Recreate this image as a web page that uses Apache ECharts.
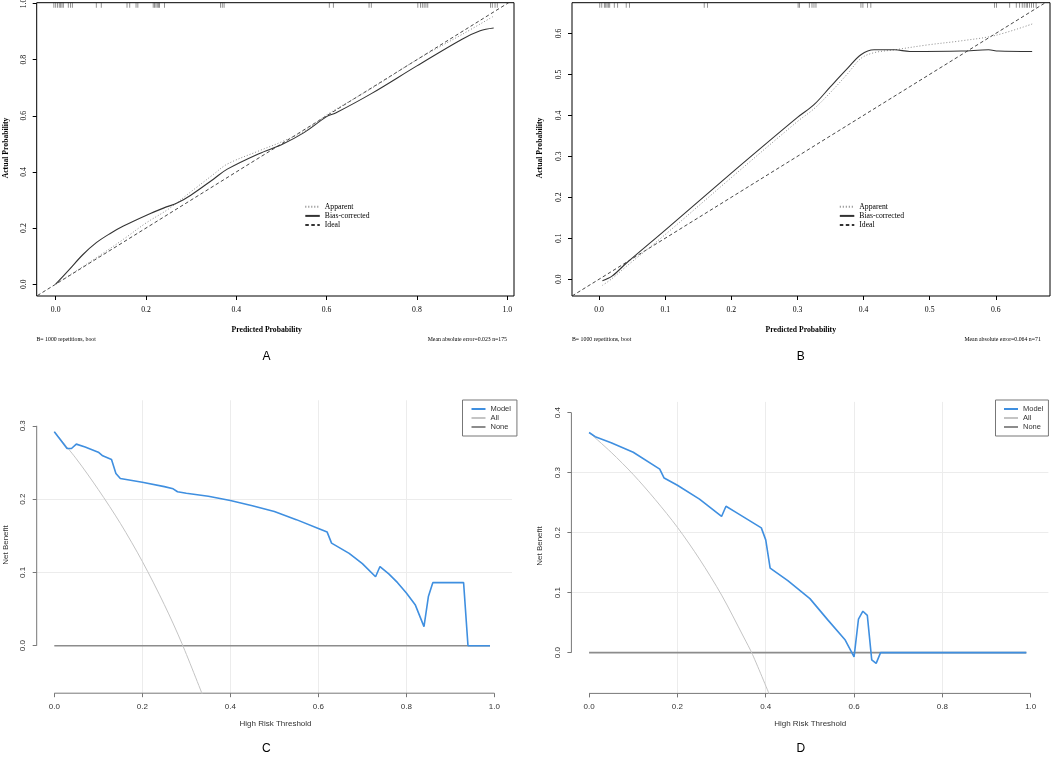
<!DOCTYPE html>
<html>
<head>
<meta charset="utf-8">
<script src="https://cdn.jsdelivr.net/npm/echarts@6.0.0/dist/echarts.min.js"></script>
<style>
html,body{margin:0;padding:0;background:#fff;}
#main{width:1052px;height:759px;}
</style>
</head>
<body>
<div id="main"></div>
<script>
// ---------- data ----------
// A: calibration, training set
var xTicksA = [0, 0.2, 0.4, 0.6, 0.8, 1.0];
var yTicksA = [0, 0.2, 0.4, 0.6, 0.8, 1.0];
var apparentAx = [0, 0.05, 0.1, 0.15, 0.2, 0.25, 0.3, 0.35, 0.38, 0.45, 0.5, 0.55, 0.6, 0.7, 0.8, 0.9, 0.97];
var apparentAy = [0, 0.052, 0.105, 0.16, 0.218, 0.268, 0.33, 0.392, 0.428, 0.475, 0.507, 0.545, 0.603, 0.698, 0.8, 0.89, 0.955];
var biasAx = [0, 0.03, 0.06, 0.09, 0.12, 0.15, 0.2, 0.24, 0.27, 0.3, 0.35, 0.38, 0.45, 0.5, 0.55, 0.6, 0.62, 0.7, 0.8, 0.9, 0.94, 0.97];
var biasAy = [0, 0.052, 0.105, 0.148, 0.18, 0.207, 0.245, 0.272, 0.29, 0.318, 0.375, 0.41, 0.465, 0.497, 0.54, 0.597, 0.61, 0.68, 0.778, 0.873, 0.903, 0.913];
var rugA = [-0.004, 0.0, 0.004, 0.008, 0.011, 0.014, 0.017, 0.028, 0.033, 0.037, 0.09, 0.101, 0.158, 0.164, 0.178, 0.182,
            0.216, 0.219, 0.222, 0.225, 0.228, 0.23, 0.241, 0.365, 0.369, 0.373, 0.606, 0.615, 0.694, 0.699,
            0.802, 0.808, 0.812, 0.816, 0.82, 0.824, 0.963, 0.967, 0.973, 0.978];
var statsA = ['B= 1000 repetitions, boot', 'Mean absolute error=0.023 n=175'];

// B: calibration, validation set
var xTicksB = [0, 0.1, 0.2, 0.3, 0.4, 0.5, 0.6];
var yTicksB = [0, 0.1, 0.2, 0.3, 0.4, 0.5, 0.6];
var apparentBx = [0.005, 0.02, 0.041, 0.1, 0.2, 0.3, 0.325, 0.35, 0.376, 0.396, 0.416, 0.447, 0.497, 0.548, 0.599, 0.655];
var apparentBy = [-0.015, 0.002, 0.031, 0.109, 0.248, 0.385, 0.416, 0.456, 0.502, 0.539, 0.553, 0.56, 0.572, 0.582, 0.595, 0.623];
var biasBx = [0.005, 0.02, 0.041, 0.1, 0.2, 0.3, 0.325, 0.35, 0.376, 0.396, 0.416, 0.447, 0.47, 0.548, 0.589, 0.604, 0.655];
var biasBy = [-0.004, 0.008, 0.039, 0.12, 0.259, 0.395, 0.426, 0.47, 0.515, 0.548, 0.56, 0.56, 0.556, 0.557, 0.56, 0.557, 0.556];
var rugB = [0.001, 0.004, 0.008, 0.01, 0.012, 0.014, 0.016, 0.023, 0.028, 0.041, 0.046, 0.159, 0.164, 0.301, 0.303,
            0.318, 0.322, 0.325, 0.328, 0.396, 0.399, 0.406, 0.411, 0.598, 0.601, 0.621, 0.631, 0.636, 0.64, 0.643,
            0.646, 0.648, 0.651, 0.654, 0.657, 0.661];
var statsB = ['B= 1000 repetitions, boot', 'Mean absolute error=0.064 n=71'];

// C / D: decision curves
var xTicksDCA = [0, 0.2, 0.4, 0.6, 0.8, 1.0];
var yTicksC = [0, 0.1, 0.2, 0.3];
var yTicksD = [0, 0.1, 0.2, 0.3, 0.4];
var modelCx = [0, 0.029, 0.039, 0.05, 0.07, 0.1, 0.11, 0.13, 0.14, 0.15, 0.2, 0.25, 0.27, 0.28, 0.3, 0.35, 0.4, 0.45, 0.5, 0.55, 0.6, 0.62,
               0.63, 0.67, 0.7, 0.73, 0.74, 0.76, 0.78, 0.8, 0.82, 0.84, 0.85, 0.86, 0.93, 0.94, 0.99];
var modelCy = [0.292, 0.269, 0.269, 0.275, 0.271, 0.264, 0.259, 0.254, 0.235, 0.228, 0.223, 0.217, 0.214, 0.21, 0.208, 0.204, 0.198, 0.191, 0.183, 0.172, 0.16, 0.155,
               0.14, 0.126, 0.112, 0.094, 0.108, 0.098, 0.086, 0.072, 0.056, 0.026, 0.067, 0.086, 0.086, 0, 0];
var allCx = [0, 0.05, 0.1, 0.15, 0.2, 0.25, 0.29, 0.34];
var allCy = [0.292, 0.255, 0.213, 0.167, 0.115, 0.056, 0.003, -0.072];
var noneCx = [0, 0.99];
var noneCy = [0, 0];
var modelDx = [0, 0.014, 0.05, 0.1, 0.16, 0.17, 0.2, 0.25, 0.3, 0.31, 0.33, 0.39, 0.4, 0.41, 0.45, 0.5, 0.54, 0.58, 0.6,
               0.61, 0.62, 0.63, 0.64, 0.65, 0.66, 0.99];
var modelDy = [0.367, 0.36, 0.35, 0.334, 0.306, 0.291, 0.279, 0.256, 0.227, 0.244, 0.235, 0.208, 0.188, 0.141, 0.12, 0.09, 0.055, 0.021, -0.007,
               0.056, 0.069, 0.062, -0.012, -0.018, 0, 0];
var allDx = [0, 0.05, 0.1, 0.15, 0.2, 0.25, 0.3, 0.35, 0.37, 0.41];
var allDy = [0.367, 0.334, 0.297, 0.255, 0.209, 0.156, 0.096, 0.026, -0.003, -0.073];
var noneDx = [0, 0.99];
var noneDy = [0, 0];

var calLegend = ['Apparent', 'Bias-corrected', 'Ideal'];
var dcaLegend = ['Model', 'All', 'None'];
var panelLetters = ['A', 'B', 'C', 'D'];

// ---------- axis extents (R style 4% padding) ----------
var extA = {x: [-0.042, 1.015], y: [-0.042, 1.003]};
var extB = {x: [-0.041, 0.682], y: [-0.041, 0.675]};
var extC = {x: [-0.04, 1.04], y: [-0.0648, 0.3348]};
var extD = {x: [-0.04, 1.04], y: [-0.068, 0.418]};

var serif = 'Liberation Serif';
var sans = 'Liberation Sans';

function xy(xs, ys) { return xs.map(function (x, i) { return [x, ys[i]]; }); }
function fmt1(v) { return v.toFixed(1); }

function calAxis(idx, ext, ticks, isY) {
  return {
    gridIndex: idx, type: 'value', min: ext[0], max: ext[1],
    axisLine: {show: false, onZero: false},
    splitLine: {show: false},
    axisTick: {show: true, inside: false, length: 4, customValues: ticks, lineStyle: {color: '#000', width: 1}},
    axisLabel: {customValues: ticks, formatter: fmt1, margin: isY ? 9 : 10, rotate: isY ? 90 : 0,
      fontFamily: serif, fontSize: 7.7, color: '#000'}
  };
}
function dcaAxis(idx, ext, ticks, isY, split) {
  return {
    gridIndex: idx, type: 'value', min: ext[0], max: ext[1], splitNumber: split,
    axisLine: {show: false, onZero: false},
    splitLine: {show: true, showMinLine: false, showMaxLine: false, lineStyle: {color: '#ececec', width: 1}},
    axisTick: {show: true, inside: false, length: 4, customValues: ticks, lineStyle: {color: '#777', width: 1}},
    axisLabel: {customValues: ticks, formatter: fmt1, margin: 9.5, rotate: isY ? 90 : 0,
      fontFamily: sans, fontSize: 8, color: '#333'}
  };
}

function lineSeries(name, idx, data, color, width, dash, smooth) {
  return {name: name, type: 'line', xAxisIndex: idx, yAxisIndex: idx, symbol: 'none', silent: true,
    smooth: smooth || false, data: data,
    itemStyle: {color: color},
    lineStyle: {color: color, width: width, type: dash || 'solid'}};
}

function calSeries(idx, appX, appY, biasX, biasY, ext, rug) {
  return [
    lineSeries('Ideal', idx, [[ext.x[0] - 0.1, ext.x[0] - 0.1], [ext.x[1] + 0.1, ext.x[1] + 0.1]], '#333', 0.9, [3.5, 2.5]),
    lineSeries('Apparent', idx, xy(appX, appY), '#8a8a8a', 1, [1, 2], 0.35),
    lineSeries('Bias-corrected', idx, xy(biasX, biasY), '#333', 1.1, null, 0.35),
    {type: 'scatter', xAxisIndex: idx, yAxisIndex: idx, silent: true, symbol: 'rect',
      symbolSize: [0.9, 5], symbolOffset: [0, 2.5],
      data: rug.map(function (x) { return [x, ext.y[1]]; }),
      itemStyle: {color: '#222', opacity: 0.55}}
  ];
}
function dcaSeries(idx, mX, mY, aX, aY, nX, nY, ext, yTicks) {
  var axisX = lineSeries('', idx, [[xTicksDCA[0], ext.y[0]], [xTicksDCA[xTicksDCA.length - 1], ext.y[0]]], '#777', 1);
  var axisY = lineSeries('', idx, [[ext.x[0], yTicks[0]], [ext.x[0], yTicks[yTicks.length - 1]]], '#777', 1);
  axisX.clip = false;
  axisY.clip = false;
  return [
    axisX, axisY,
    lineSeries('None', idx, xy(nX, nY), '#8c8c8c', 1.6),
    lineSeries('All', idx, xy(aX, aY), '#c4c4c4', 1, null, 0.3),
    lineSeries('Model', idx, xy(mX, mY), '#3f8fe0', 1.6)
  ];
}

function txt(x, y, s, size, family, opt) {
  opt = opt || {};
  return {
    type: 'text', x: x, y: y, rotation: opt.rot || 0, silent: true,
    style: {text: s, fontSize: size, fontFamily: family, fontWeight: opt.bold ? 'bold' : 'normal',
      fill: opt.color || '#000', align: opt.align || 'center', verticalAlign: 'middle'}
  };
}

var calLegendStyle = {
  orient: 'vertical', padding: 0, itemWidth: 14.5, itemHeight: 2, itemGap: 0, itemTextGap: 6.8,
  selectedMode: false, data: calLegend, itemStyle: {opacity: 0},
  textStyle: {fontFamily: serif, fontSize: 7.7, lineHeight: 9.2, color: '#000'}
};
var dcaLegendStyle = {
  orient: 'vertical', itemWidth: 14, itemHeight: 2, itemGap: 0, itemTextGap: 5,
  selectedMode: false, data: dcaLegend, itemStyle: {opacity: 0},
  borderColor: '#777', borderWidth: 1, borderRadius: 0,
  textStyle: {fontFamily: sans, fontSize: 7.5, lineHeight: 9, color: '#333'}
};

var chart = echarts.init(document.getElementById('main'));
var option = {
  animation: false,
  backgroundColor: '#fff',
  grid: [
    {left: 36.7, top: 2.7, width: 477.3, height: 293.3, show: true, borderColor: '#000', borderWidth: 1, backgroundColor: 'transparent', containLabel: false, outerBoundsMode: 'none'},
    {left: 572, top: 2.7, width: 478, height: 293.3, show: true, borderColor: '#000', borderWidth: 1, backgroundColor: 'transparent', containLabel: false, outerBoundsMode: 'none'},
    {left: 36.7, top: 400.3, width: 475.3, height: 292.9, containLabel: false, outerBoundsMode: 'none'},
    {left: 571.4, top: 401.9, width: 477, height: 291.5, containLabel: false, outerBoundsMode: 'none'}
  ],
  xAxis: [
    calAxis(0, extA.x, xTicksA, false),
    calAxis(1, extB.x, xTicksB, false),
    dcaAxis(2, extC.x, xTicksDCA, false, 5),
    dcaAxis(3, extD.x, xTicksDCA, false, 5)
  ],
  yAxis: [
    calAxis(0, extA.y, yTicksA, true),
    calAxis(1, extB.y, yTicksB, true),
    dcaAxis(2, extC.y, yTicksC, true, 4),
    dcaAxis(3, extD.y, yTicksD, true, 5)
  ],
  legend: [
    Object.assign({left: 304.3, top: 202.1}, calLegendStyle),
    Object.assign({left: 838.8, top: 202.1}, calLegendStyle),
    Object.assign({left: 462.5, top: 400, padding: [4.5, 6, 4.5, 8]}, dcaLegendStyle),
    Object.assign({left: 995.5, top: 400, padding: [4.5, 5, 4.5, 7.5]}, dcaLegendStyle)
  ],
  graphic: [
    txt(266.7, 330.5, 'Predicted Probability', 7.7, serif, {bold: true}),
    txt(6.5, 148, 'Actual Probability', 7.7, serif, {bold: true, rot: Math.PI / 2}),
    txt(36.5, 339, statsA[0], 5.8, serif, {align: 'left'}),
    txt(507, 339, statsA[1], 5.8, serif, {align: 'right'}),
    txt(266.4, 357, panelLetters[0], 12, sans),

    txt(800.8, 330.5, 'Predicted Probability', 7.7, serif, {bold: true}),
    txt(540, 148, 'Actual Probability', 7.7, serif, {bold: true, rot: Math.PI / 2}),
    txt(572, 339, statsB[0], 5.8, serif, {align: 'left'}),
    txt(1040.8, 339, statsB[1], 5.8, serif, {align: 'right'}),
    txt(800.8, 357, panelLetters[1], 12, sans),

    txt(275.5, 724, 'High Risk Threshold', 8, sans, {color: '#333'}),
    txt(5.5, 545, 'Net Benefit', 8, sans, {color: '#333', rot: Math.PI / 2}),
    txt(266.4, 749, panelLetters[2], 12, sans),

    txt(810.2, 724, 'High Risk Threshold', 8, sans, {color: '#333'}),
    txt(540, 546, 'Net Benefit', 8, sans, {color: '#333', rot: Math.PI / 2}),
    txt(800.8, 749, panelLetters[3], 12, sans)
  ],
  series: [].concat(
    calSeries(0, apparentAx, apparentAy, biasAx, biasAy, extA, rugA),
    calSeries(1, apparentBx, apparentBy, biasBx, biasBy, extB, rugB),
    dcaSeries(2, modelCx, modelCy, allCx, allCy, noneCx, noneCy, extC, yTicksC),
    dcaSeries(3, modelDx, modelDy, allDx, allDy, noneDx, noneDy, extD, yTicksD)
  )
};
chart.setOption(option);
</script>
</body>
</html>
